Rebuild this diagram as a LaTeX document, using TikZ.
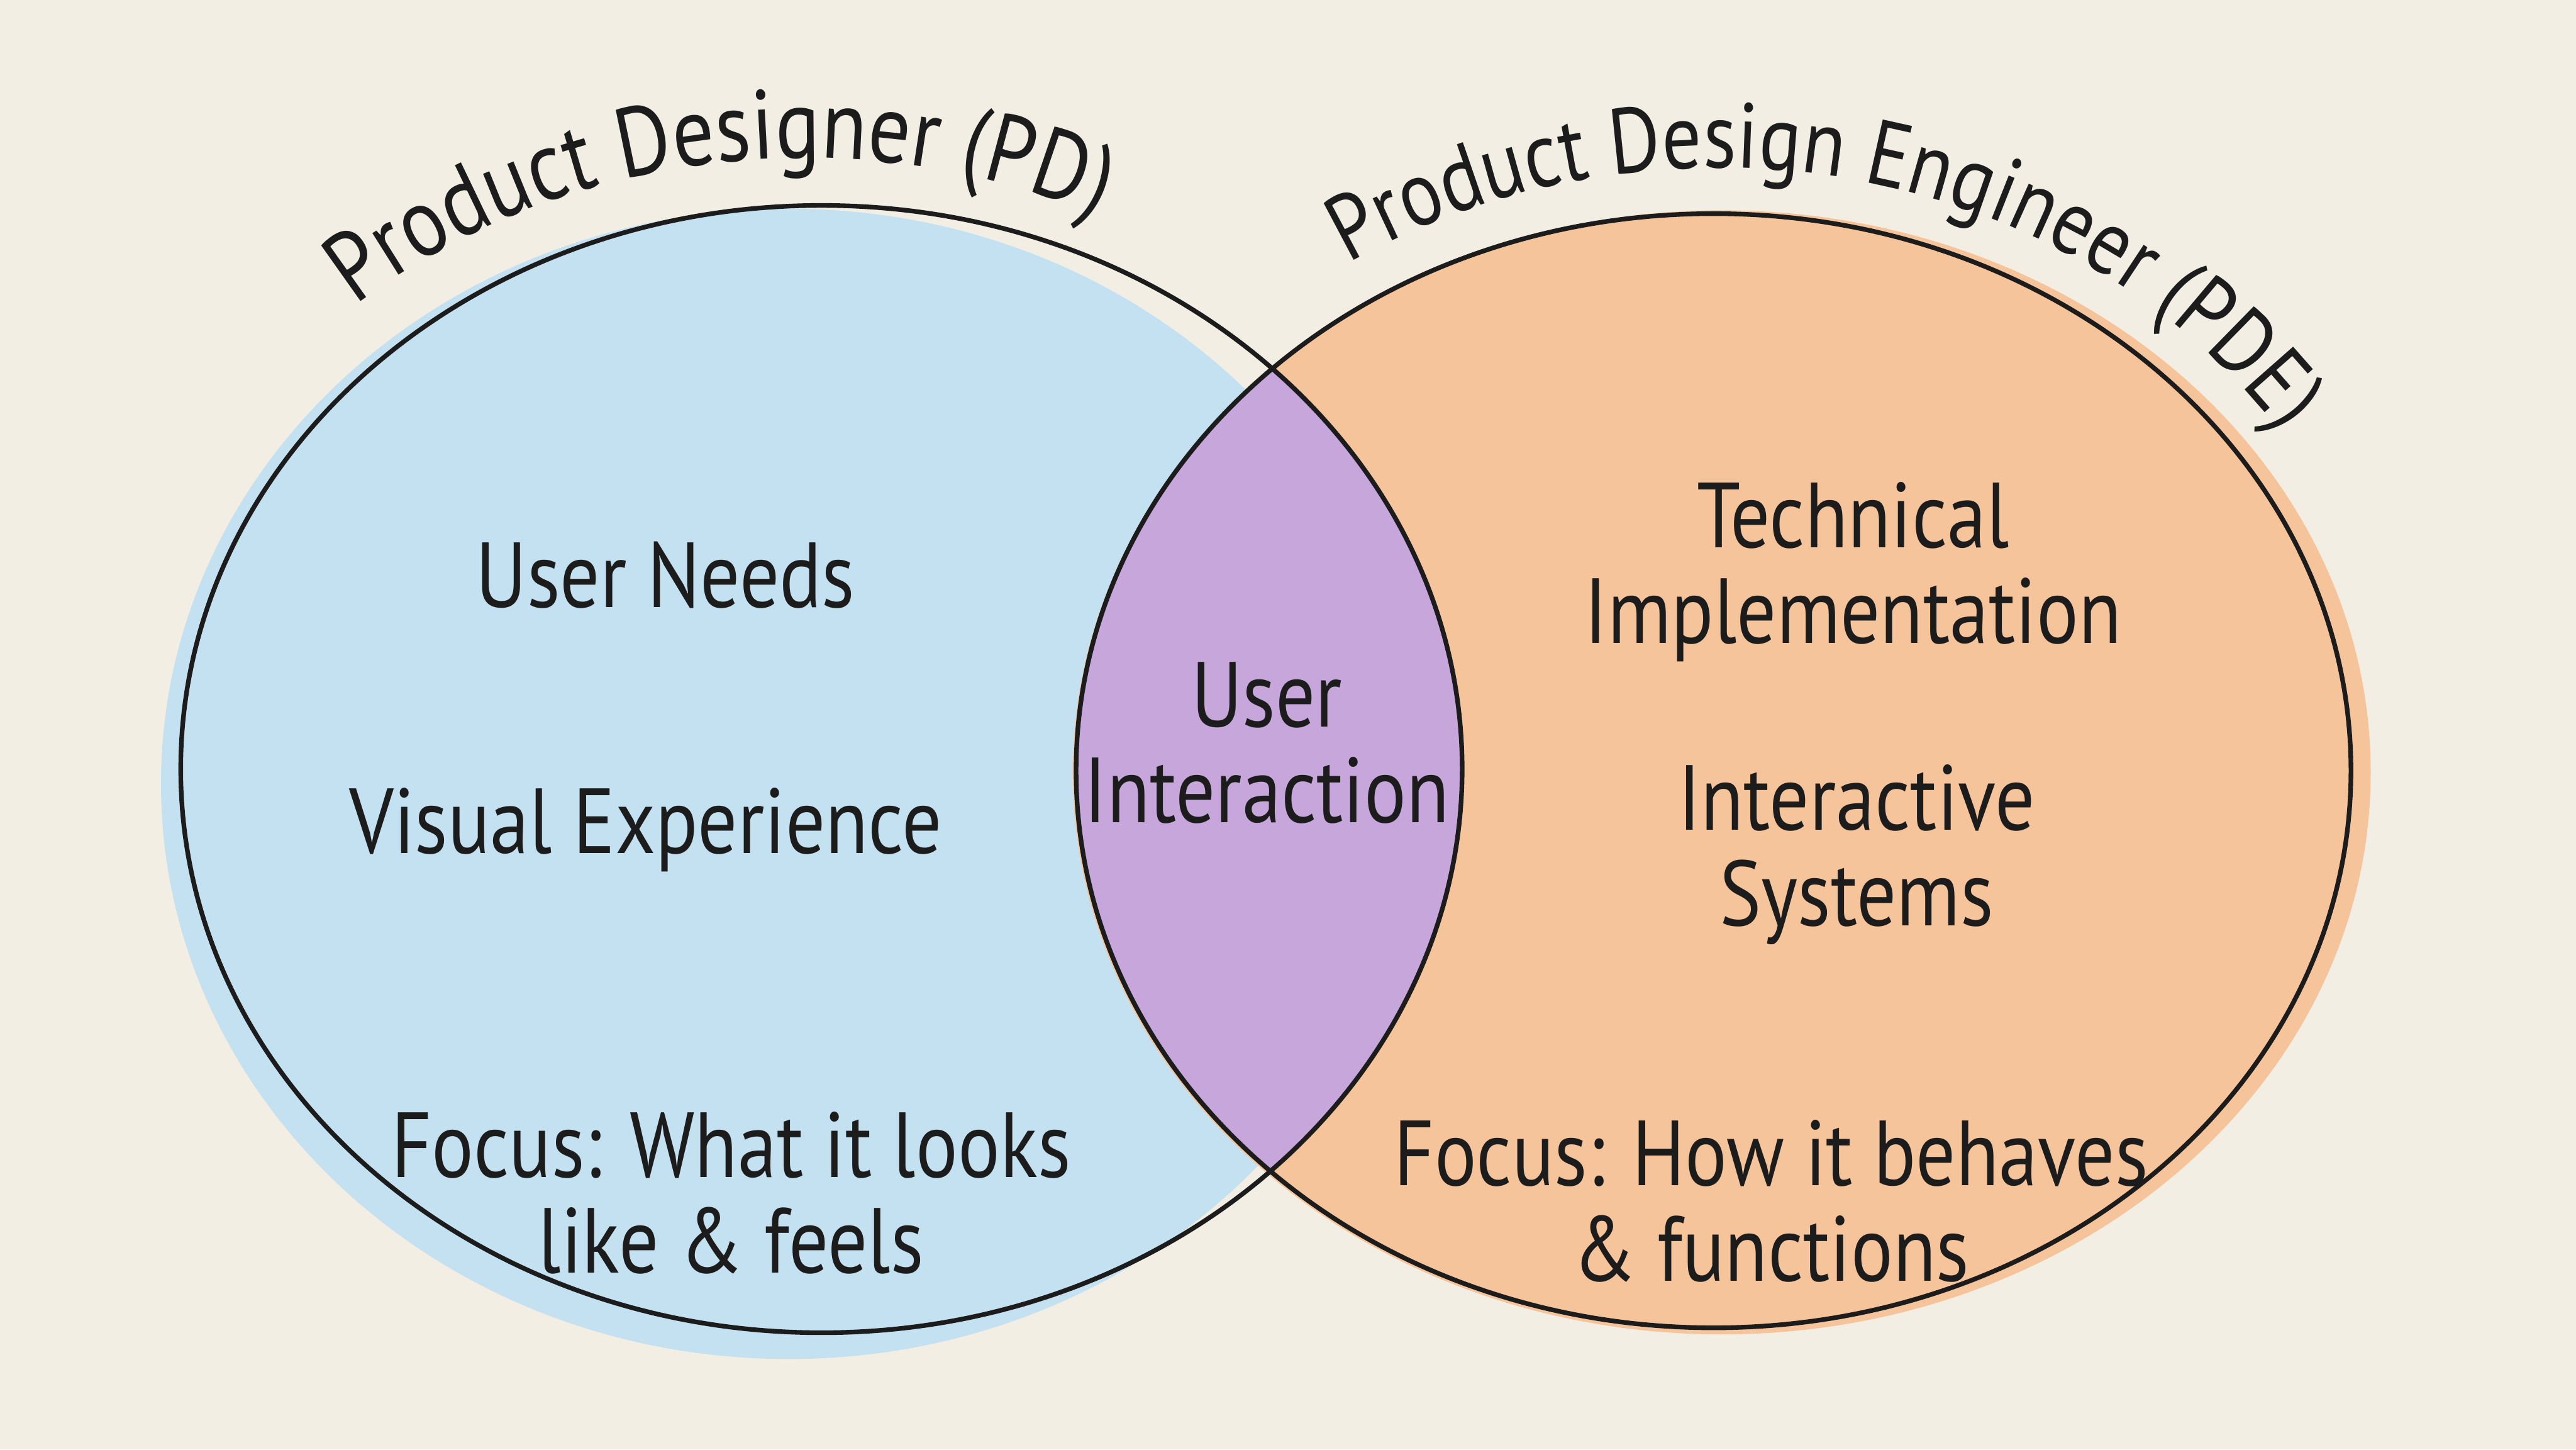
\documentclass[tikz,border=0pt]{standalone}
\usepackage{fontspec}
\setmainfont{PT Sans}[FakeStretch=0.85]
\usetikzlibrary{decorations.text}
\definecolor{paper}{HTML}{F3EEE3}
\definecolor{pdblue}{HTML}{C4E1F1}
\definecolor{pdeorange}{HTML}{F6C49A}
\definecolor{overlap}{HTML}{C6A6DB}
\definecolor{ink}{HTML}{1C1C1C}
\newcommand{\titlefont}{\fontsize{17}{20}\selectfont}
\newcommand{\smalltitlefont}{\fontsize{16}{19}\selectfont}

\begin{document}
\begin{tikzpicture}[
  label/.style={align=center, text=ink, inner sep=0pt,
    font=\fontsize{16}{16.5}\selectfont},
  outline/.style={draw=ink, line width=0.8pt},
  title/.style={decorate, decoration={text along path, text align=center,
    text color=ink, text={#1}}}]
\useasboundingbox (0,0) rectangle (15.68,8.82);
\fill[paper] (0,0) rectangle (15.68,8.82);

% washes
\fill[pdblue] (4.80,4.05) ellipse[x radius=3.82, y radius=3.50];
\fill[pdeorange] (10.48,4.12) ellipse[x radius=3.95, y radius=3.42];
\begin{scope}
  \clip (5.00,4.14) ellipse[x radius=3.90, y radius=3.43];
  \fill[overlap] (10.43,4.13) ellipse[x radius=3.88, y radius=3.39];
\end{scope}

% outlines
\draw[outline] (5.00,4.14) ellipse[x radius=3.90, y radius=3.43];
\draw[outline] (10.43,4.13) ellipse[x radius=3.88, y radius=3.39];

% curved titles
\path[title={|\titlefont|Product Designer (PD)}] (4.90,4.14) ++(148:4.2 and 3.72)
  arc[start angle=148, end angle=48, x radius=4.2, y radius=3.72];
\path[title={|\smalltitlefont|Product Design Engineer (PDE)}] (10.45,4.12)
  ++(140:4.15 and 3.68)
  arc[start angle=140, end angle=16, x radius=4.15, y radius=3.68];

\node[label] (needs) at (4.05,5.32) {User Needs};
\node[label] (visual) at (3.93,3.77) {Visual Experience};
\node[label] (focuspd) at (4.45,1.56) {Focus: What it looks\\like \& feels};
\node[label] (interaction) at (7.71,4.30) {User\\Interaction};
\node[label] (technical) at (11.28,5.34) {Technical\\Implementation};
\node[label] (systems) at (11.30,3.62) {Interactive\\Systems};
\node[label] (focuspde) at (10.78,1.51) {Focus: How it behaves\\\& functions};
\end{tikzpicture}
\end{document}
